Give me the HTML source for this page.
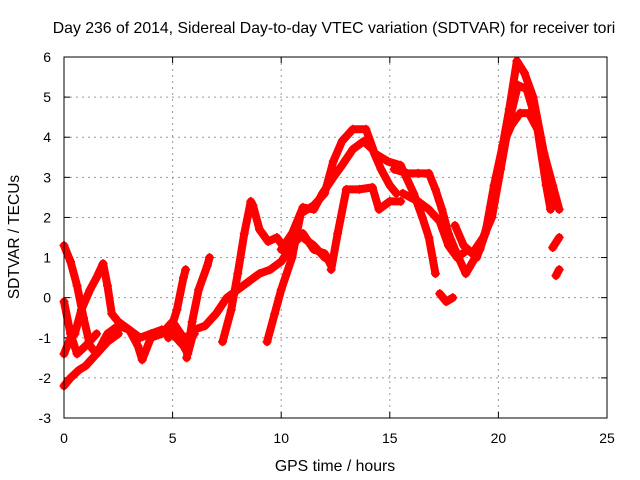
<!DOCTYPE html>
<html><head><meta charset="utf-8"><style>
body{margin:0;background:#fff;}
svg{display:block;font-family:"Liberation Sans",sans-serif;}
</style></head><body>
<svg id="chart" width="640" height="480">
<text x="334" y="33" text-anchor="middle" font-size="15.8">Day 236 of 2014, Sidereal Day-to-day VTEC variation (SDTVAR) for receiver tori</text>
<text x="335" y="471" text-anchor="middle" font-size="15.8">GPS time / hours</text>
<text transform="translate(19,237) rotate(-90)" text-anchor="middle" font-size="15.5">SDTVAR / TECUs</text>
<g id="grid"></g>
<g id="ticks"></g>
<g id="series"></g>
<rect x="64" y="57" width="543" height="361" fill="none" stroke="#000" stroke-width="1"/>
</svg>
<script>
const xTicks=[0,5,10,15,20,25];
const yTicks=[-3,-2,-1,0,1,2,3,4,5,6];
const track1=[[0,1.3],[0.3,0.9],[0.6,0.3],[0.9,-0.5],[1.2,-1.2],[1.5,-1.4],[2,-0.9],[2.5,-0.7],[3,-0.8],[3.5,-1.0],[4,-0.9],[4.5,-0.8],[5,-0.9],[5.5,-1.2],[5.7,-1.4],[6,-0.8],[6.5,-0.7],[7,-0.4],[7.5,0.0],[8,0.2],[8.5,0.4],[9,0.6],[9.5,0.7],[10,0.9],[10.5,1.3],[11,1.6],[11.5,1.2],[12,1.1],[12.3,0.8]];
const track2=[[0,-1.4],[0.3,-1.0],[0.5,-0.9],[0.8,-0.3],[1.2,0.2],[1.5,0.5],[1.8,0.85],[2,0.3],[2.2,-0.4],[2.5,-0.6],[3,-0.8],[3.4,-1.2],[3.6,-1.55],[4,-1.0],[4.5,-0.9],[5,-0.6],[5.5,-1.0],[6,-0.9]];
const track3=[[0,-2.2],[0.3,-2.0],[0.7,-1.8],[1,-1.7],[1.5,-1.4],[2,-1.1],[2.5,-0.9]];
const track4=[[0,-0.1],[0.3,-0.9],[0.6,-1.4],[1,-1.2],[1.5,-0.9]];
const track5=[[4.8,-1.0],[5.2,-0.3],[5.5,0.5],[5.6,0.7]];
const track6=[[5.65,-1.5],[5.9,-0.6],[6.2,0.2],[6.6,0.8],[6.7,1.0]];
const track7=[[7.3,-1.1],[7.7,-0.3],[8,0.6],[8.3,1.6],[8.6,2.4],[8.7,2.3],[9,1.7],[9.4,1.4],[9.8,1.5],[10.2,1.2],[10.6,1.5],[11,1.5],[11.5,1.3],[12,1.0]];
const track8=[[9.35,-1.1],[9.7,-0.4],[10,0.2],[10.5,1.0],[10.9,2.1],[11.5,2.3],[12,2.6],[12.4,3.4],[12.8,3.9],[13.3,4.2],[13.9,4.2],[14.3,3.6],[14.9,3.4],[15.5,3.3],[16.1,2.6],[16.5,2.0],[16.8,1.5],[17.1,0.6]];
const track9=[[10,1.2],[10.5,1.6],[11,2.25],[11.5,2.2],[11.9,2.6],[12.4,3.0],[12.8,3.3],[13.3,3.7],[13.8,3.9],[14.2,3.7],[14.6,3.2],[15,2.8],[15.3,2.6]];
const track10=[[12.3,0.7],[12.6,1.6],[13,2.7],[13.6,2.7],[14.2,2.75],[14.5,2.2],[15,2.4],[15.5,2.4]];
const track11=[[15.2,3.2],[15.8,3.1],[16.3,3.1],[16.8,3.1],[17.1,2.7],[17.4,2.2],[17.7,1.6],[18.0,1.2],[18.5,0.6],[19.15,1.2],[19.7,2.2],[20.2,3.8],[20.5,4.7],[20.85,5.9],[21.2,5.6],[21.6,5.0],[22.1,3.6],[22.5,2.8],[22.8,2.2]];
const track12=[[15.6,2.6],[16.3,2.4],[16.8,2.2],[17.3,1.9],[17.7,1.3],[18.1,1.0],[18.6,1.2],[19.0,1.0],[19.4,1.6],[19.8,2.8],[20.2,3.8],[20.6,4.3],[21.0,4.6],[21.4,4.6],[21.8,4.2],[22.2,2.8],[22.4,2.2]];
const track13=[[18.0,1.8],[18.4,1.3],[18.8,1.1],[19.3,1.5],[19.7,2.0],[20.1,3.2],[20.5,4.4],[20.9,5.3],[21.3,5.2],[21.8,4.3],[22.3,3.0],[22.6,2.3]];
const track14=[[17.3,0.1],[17.6,-0.1],[17.9,0.0]];
const track15=[[22.5,1.25],[22.8,1.5]];
const track16=[[22.65,0.55],[22.8,0.7]];
const tracks=[track1,track2,track3,track4,track5,track6,track7,track8,track9,track10,track11,track12,track13,track14,track15,track16];
const X0=64,X1=607,Y0=418,Y1=57,xmin=0,xmax=25,ymin=-3,ymax=6;
const sx=v=>X0+(v-xmin)/(xmax-xmin)*(X1-X0);
const sy=v=>Y0-(v-ymin)/(ymax-ymin)*(Y0-Y1);
const NS="http://www.w3.org/2000/svg";
const grid=document.getElementById('grid'),ticks=document.getElementById('ticks'),series=document.getElementById('series');
function mk(tag,attrs,parent){const e=document.createElementNS(NS,tag);for(const k in attrs)e.setAttribute(k,attrs[k]);parent.appendChild(e);return e;}
xTicks.forEach(t=>{const x=sx(t);
 if(t>xmin&&t<xmax){const g=mk('line',{x1:x,x2:x,y1:Y1,y2:Y0,stroke:'#999','stroke-dasharray':'2,4'},grid);
 
 }
 mk('line',{x1:x,x2:x,y1:Y0,y2:Y0-6,stroke:'#000'},ticks);mk('line',{x1:x,x2:x,y1:Y1,y2:Y1+6,stroke:'#000'},ticks);
 const l=mk('text',{x:x,y:443,'text-anchor':'middle','font-size':'14'},ticks);l.textContent=t;
 
 });
yTicks.forEach(t=>{const y=sy(t);
 if(t>ymin&&t<ymax){const g=mk('line',{x1:X0,x2:X1,y1:y,y2:y,stroke:'#999','stroke-dasharray':'2,4'},grid);
 
 }
 mk('line',{x1:X0,x2:X0+6,y1:y,y2:y,stroke:'#000'},ticks);mk('line',{x1:X1,x2:X1-6,y1:y,y2:y,stroke:'#000'},ticks);
 const l=mk('text',{x:51,y:y+5,'text-anchor':'end','font-size':'14'},ticks);l.textContent=t;
 
 });
tracks.forEach((tr,i)=>{
 const g=mk('g',{},series);
 
 
 mk('polyline',{points:tr.map(p=>sx(p[0])+','+sy(p[1])).join(' '),fill:'none',stroke:'#f00','stroke-width':8,'stroke-linejoin':'round','stroke-linecap':'round'},g);
 tr.forEach(p=>{const x=sx(p[0]),y=sy(p[1]);
  mk('path',{d:`M${x-4.5},${y}H${x+4.5}M${x},${y-4.5}V${y+4.5}`,stroke:'#f00','stroke-width':1.5},g);});
});
</script>
</body></html>
